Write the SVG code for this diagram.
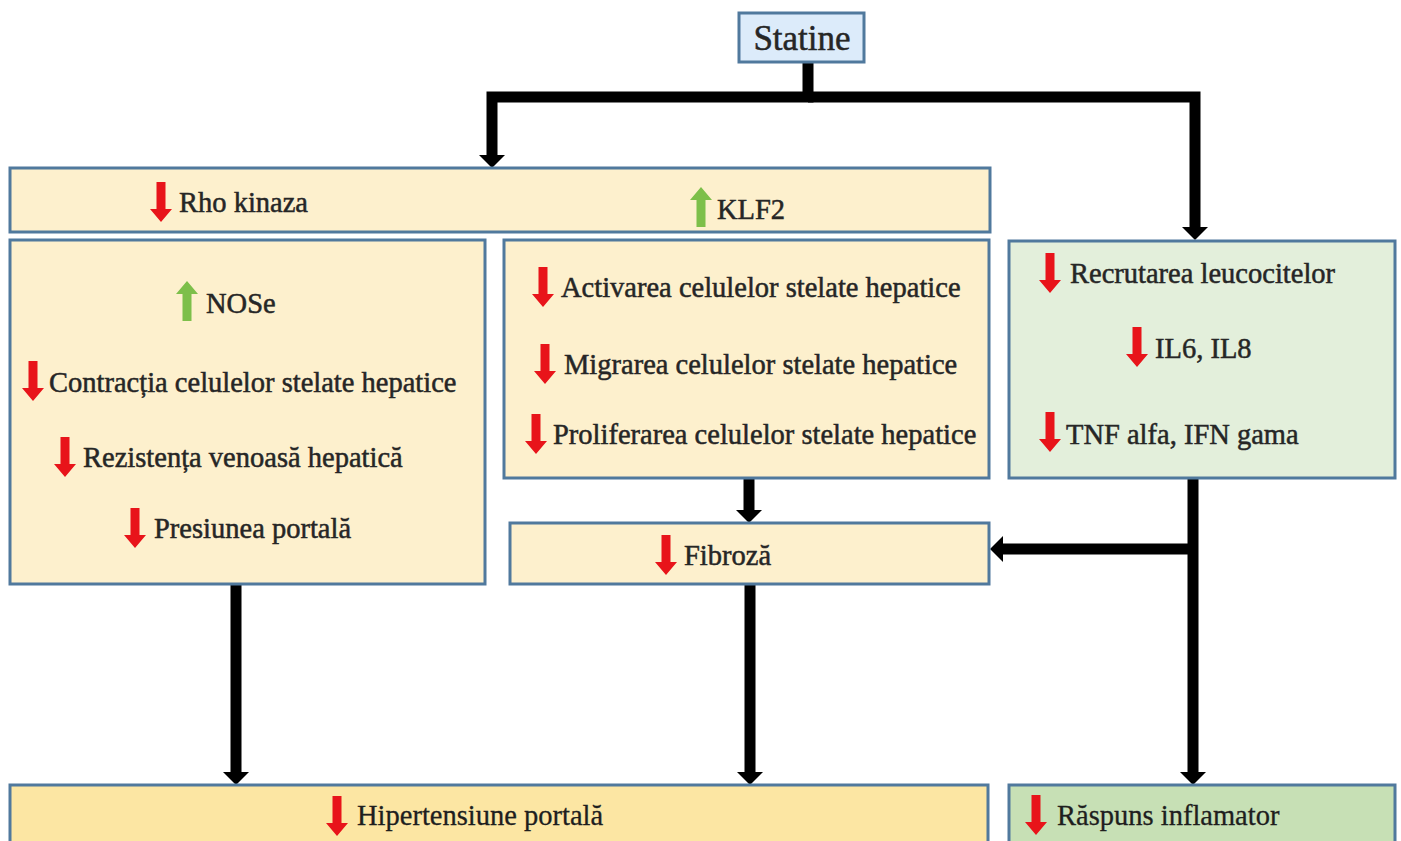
<svg xmlns="http://www.w3.org/2000/svg" width="1401" height="841" viewBox="0 0 1401 841">
<style>
.box{stroke:#50799d;stroke-width:3}
.y{fill:#fdf0cd}
.g{fill:#e3efdb}
.yb{fill:#fce6a3}
.gb{fill:#c7e0b5}
.t{font-family:'Liberation Serif',Tinos,'DejaVu Serif',serif;font-size:28.5px;fill:#262626;stroke:#262626;stroke-width:0.5}
.tb{font-family:'Liberation Serif',Tinos,'DejaVu Serif',serif;font-size:28.5px;fill:#1e1e1e;stroke:#1e1e1e;stroke-width:0.3}
.conn{fill:none;stroke:#000;stroke-width:11;stroke-linejoin:miter}
.dn{fill:#e8141a}
.up{fill:#7dbf4a}
</style>
<defs>
<marker id="ah" markerUnits="userSpaceOnUse" markerWidth="30" markerHeight="30" viewBox="0 -15 15 30" refX="0" refY="0" orient="auto">
<path d="M0,-13 L13,0 L0,13 z" fill="#000"/>
</marker>
<path id="da" d="M-4.5,0 H4.5 V27 H11 L0,40 L-11,27 H-4.5 z"/>
<path id="ua" d="M-4.5,40 H4.5 V13 H11 L0,0 L-11,13 H-4.5 z"/>
</defs>
<rect width="1401" height="841" fill="#fff"/>

<g id="connectors">
<path class="conn" d="M808,62 V97 H492 V155" marker-end="url(#ah)"/>
<path class="conn" d="M808,97 H1195 V227" marker-end="url(#ah)"/>
<path class="conn" d="M749,478 V510" marker-end="url(#ah)"/>
<path class="conn" d="M1193,478 V772" marker-end="url(#ah)"/>
<path class="conn" d="M1193,549 H1003" marker-end="url(#ah)"/>
<path class="conn" d="M236,584 V772" marker-end="url(#ah)"/>
<path class="conn" d="M750,584 V772" marker-end="url(#ah)"/>
</g>

<g id="statine">
<rect class="box" x="739" y="13" width="125" height="49" fill="#dcebfa"/>
<text class="t" x="802" y="50" text-anchor="middle" style="font-size:35px">Statine</text>
</g>

<g id="rho-klf2">
<rect class="box y" x="10" y="168" width="980" height="64"/>
<use href="#da" x="161" y="182" class="dn"/>
<text class="t" x="179" y="212">Rho kinaza</text>
<use href="#ua" x="701" y="187" class="up"/>
<text class="t" x="717" y="219">KLF2</text>
</g>

<g id="left-box">
<rect class="box y" x="10" y="240" width="475" height="344"/>
<use href="#ua" x="187" y="281" class="up"/>
<text class="t" x="206" y="313">NOSe</text>
<use href="#da" x="33" y="361" class="dn"/>
<text class="t" x="49" y="392">Contracția celulelor stelate hepatice</text>
<use href="#da" x="65" y="437" class="dn"/>
<text class="t" x="83" y="467">Rezistența venoasă hepatică</text>
<use href="#da" x="135" y="508" class="dn"/>
<text class="t" x="154" y="538">Presiunea portală</text>
</g>

<g id="middle-box">
<rect class="box y" x="504" y="240" width="485" height="238"/>
<use href="#da" x="543" y="267" class="dn"/>
<text class="t" x="561" y="297">Activarea celulelor stelate hepatice</text>
<use href="#da" x="545" y="344" class="dn"/>
<text class="t" x="564" y="374">Migrarea celulelor stelate hepatice</text>
<use href="#da" x="536" y="414" class="dn"/>
<text class="t" x="553" y="444">Proliferarea celulelor stelate hepatice</text>
</g>

<g id="right-box">
<rect class="box g" x="1009" y="241" width="386" height="237"/>
<use href="#da" x="1050" y="253" class="dn"/>
<text class="t" x="1070" y="283">Recrutarea leucocitelor</text>
<use href="#da" x="1137" y="327" class="dn"/>
<text class="t" x="1155" y="358">IL6, IL8</text>
<use href="#da" x="1050" y="412" class="dn"/>
<text class="t" x="1066" y="444">TNF alfa, IFN gama</text>
</g>

<g id="fibroza">
<rect class="box y" x="510" y="523" width="479" height="61"/>
<use href="#da" x="666" y="535" class="dn"/>
<text class="t" x="684" y="565">Fibroză</text>
</g>

<g id="hipertensiune">
<rect class="box yb" x="10" y="785" width="978" height="70"/>
<use href="#da" x="337" y="796" class="dn"/>
<text class="tb" x="357" y="825">Hipertensiune portală</text>
</g>

<g id="raspuns">
<rect class="box gb" x="1009" y="785" width="386" height="70"/>
<use href="#da" x="1036" y="795" class="dn"/>
<text class="tb" x="1057" y="825">Răspuns inflamator</text>
</g>
</svg>
